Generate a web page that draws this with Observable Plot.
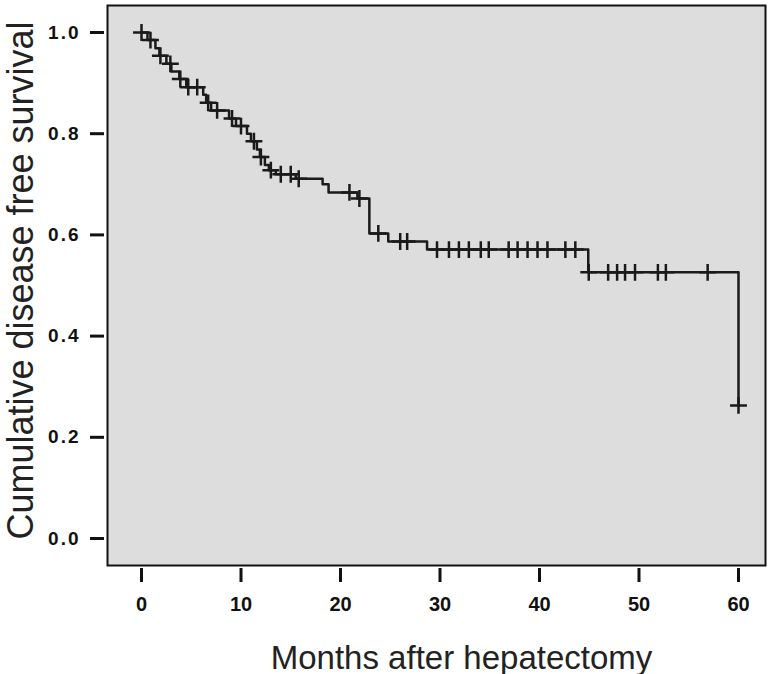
<!DOCTYPE html>
<html>
<head>
<meta charset="utf-8">
<script src="https://cdn.jsdelivr.net/npm/d3@7"></script>
<script src="https://cdn.jsdelivr.net/npm/@observablehq/plot@0.6"></script>
<style>
  html, body { margin: 0; padding: 0; background: #ffffff; }
  #chart svg { display: block; }
  g[aria-label="y-axis tick label"] text { letter-spacing: 2px; }
</style>
</head>
<body>
<div id="chart"></div>
<script>
// Kaplan-Meier steps: time (months) at which the curve drops, and survival after the drop
const stepTimes    = [0, 0.6, 1.4, 1.8, 2.5, 3.0, 3.8, 4.5, 6.2, 6.5, 7.0, 8.8, 9.5, 10.6, 11.0, 11.6, 11.9, 12.4, 12.8, 13.5, 15.5, 18.2, 18.8, 21.7, 22.9, 24.8, 28.7, 44.9, 60];
const stepSurvival = [1.0, 0.985, 0.969, 0.954, 0.938, 0.923, 0.908, 0.892, 0.877, 0.861, 0.846, 0.830, 0.815, 0.800, 0.785, 0.769, 0.754, 0.738, 0.728, 0.720, 0.711, 0.700, 0.684, 0.672, 0.603, 0.587, 0.571, 0.526, 0.263];
// Censored observations (months)
const censorTimes  = [0, 0.9, 1.9, 2.9, 3.9, 4.7, 5.6, 6.7, 7.6, 9.1, 10.0, 11.3, 12.0, 13.0, 14.0, 15.0, 15.8, 20.9, 21.9, 23.8, 26.0, 26.7, 29.7, 30.9, 31.9, 32.9, 34.1, 34.9, 36.9, 37.8, 38.8, 39.8, 40.8, 42.6, 43.6, 44.95, 46.9, 47.8, 48.6, 49.6, 51.9, 52.7, 56.9, 60];
const xTicks = [0, 10, 20, 30, 40, 50, 60];
const yTicks = [0, 0.2, 0.4, 0.6, 0.8, 1.0];
const xTitle = "Months after hepatectomy";
const yTitle = "Cumulative disease free survival";

const curve = stepTimes.map((t, i) => ({t, s: stepSurvival[i]}));
function survAt(t) {
  let s = 1;
  for (let i = 0; i < stepTimes.length; i++) if (stepTimes[i] <= t) s = stepSurvival[i];
  return s;
}
const censors = censorTimes.map(t => ({t, s: survAt(t)}));

const chart = Plot.plot({
  width: 774,
  height: 674,
  marginLeft: 107,
  marginRight: 9,
  marginTop: 5,
  marginBottom: 109,
  insetLeft: 34,
  insetRight: 27,
  insetTop: 27,
  insetBottom: 27,
  style: {fontFamily: "Liberation Sans, Arial, sans-serif", background: "#ffffff"},
  x: {domain: [0, 60]},
  y: {domain: [0, 1]},
  marks: [
    Plot.frame({fill: "#dddddd", stroke: "#111", strokeWidth: 2}),
    Plot.axisX({ticks: xTicks, tickFormat: d => String(d), label: null, tickSize: 14, dy: 3, tickPadding: 14,
      strokeWidth: 3, fontSize: 20, fontWeight: "bold", fill: "#111", stroke: "#111"}),
    Plot.axisY({ticks: yTicks, tickFormat: d => d.toFixed(1), label: null, tickSize: 14, dx: -3, tickPadding: 10,
      strokeWidth: 3, fontSize: 19, fontWeight: "bold", fill: "#111", stroke: "#111"}),
    Plot.line(curve, {x: "t", y: "s", curve: "step-after", stroke: "#1a1a1a", strokeWidth: 2.5}),
    Plot.dot(censors, {x: "t", y: "s", symbol: "plus", r: 5.5, stroke: "#1a1a1a", strokeWidth: 2.5}),
    Plot.text([xTitle], {frameAnchor: "bottom", dx: 25, dy: 103, lineAnchor: "bottom", fontSize: 33, fill: "#222", text: d => d}),
    Plot.text([yTitle], {frameAnchor: "left", dx: -75, dy: -5, rotate: -90, textAnchor: "middle", lineAnchor: "bottom", fontSize: 36, fill: "#222", text: d => d})
  ]
});
document.getElementById("chart").appendChild(chart);
</script>
</body>
</html>
